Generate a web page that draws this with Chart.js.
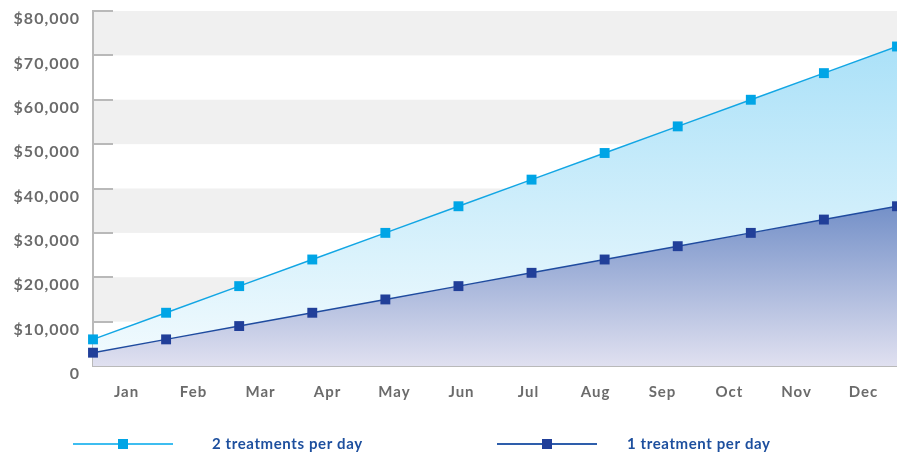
<!DOCTYPE html>
<html>
<head>
<meta charset="utf-8">
<script src="https://cdn.jsdelivr.net/npm/chart.js@4"></script>
<style>
  html, body { margin: 0; padding: 0; background: #fff; }
  #wrap { width: 897px; height: 453px; position: relative; }
</style>
</head>
<body>
<div id="wrap"><canvas id="chart"></canvas></div>
<script>
// valores
const months = ["Jan", "Feb", "Mar", "Apr", "May", "Jun", "Jul", "Aug", "Sep", "Oct", "Nov", "Dec"];
const twoTreatments = [6000, 12000, 18000, 24000, 30000, 36000, 42000, 48000, 54000, 60000, 66000, 72000];
const oneTreatment = [3000, 6000, 9000, 12000, 15000, 18000, 21000, 24000, 27000, 30000, 33000, 36000];
const seriesNames = ["2 treatments per day", "1 treatment per day"];
const yMin = 0;
const yMax = 80000;
const yStep = 10000;
// faixas cinzas do fundo
const bandLow = [70000, 50000, 30000, 10000];
const bandHigh = [80000, 60000, 40000, 20000];

const axisGray = "#b9b9b9";
const labelGray = "#6b6b6b";

// gradiente vertical do topo da série até o eixo
function gradiente(ctx, topColor, bottomColor) {
  const chart = ctx.chart;
  const area = chart.chartArea;
  if (!area) return topColor;
  const vals = chart.data.datasets[ctx.datasetIndex].data;
  const yTop = chart.scales.y.getPixelForValue(Math.max(...vals));
  const g = chart.ctx.createLinearGradient(0, yTop, 0, area.bottom);
  g.addColorStop(0, topColor);
  g.addColorStop(1, bottomColor);
  return g;
}

// espaçamento entre letras, parecido com a fonte do original
const spacingPlugin = {
  id: "spacing",
  beforeUpdate(chart) { chart.ctx.letterSpacing = "1px"; },
  beforeDraw(chart) { chart.ctx.letterSpacing = "1px"; }
};

const bandsPlugin = {
  id: "bands",
  beforeDraw(chart) {
    const { ctx, chartArea, scales } = chart;
    ctx.save();
    ctx.fillStyle = "#f0f0f0";
    bandLow.forEach((lo, i) => {
      const yA = scales.y.getPixelForValue(bandHigh[i]);
      const yB = scales.y.getPixelForValue(lo);
      ctx.fillRect(chartArea.left, yA, chartArea.right - chartArea.left, yB - yA);
    });
    ctx.restore();
  }
};

// legenda desenhada à mão: linha + quadrado + texto
const legendPlugin = {
  id: "customLegend",
  afterDraw(chart) {
    const ctx = chart.ctx;
    const spots = [
      { x: 73, textX: 212, lineColor: "#3dbdf0" },
      { x: 497, textX: 627, lineColor: "#2e5eab" }
    ];
    const y = 444;
    ctx.save();
    chart.data.datasets.forEach((ds, i) => {
      const s = spots[i];
      ctx.strokeStyle = s.lineColor;
      ctx.lineWidth = 2;
      ctx.beginPath();
      ctx.moveTo(s.x, y);
      ctx.lineTo(s.x + 100, y);
      ctx.stroke();
      ctx.fillStyle = ds.pointBackgroundColor;
      ctx.fillRect(s.x + 45, y - 5, 10, 10);
      ctx.fillStyle = "#1d4f9e";
      ctx.font = "bold 15px Lato";
      ctx.letterSpacing = "0.6px";
      ctx.textBaseline = "middle";
      ctx.textAlign = "left";
      ctx.fillText(ds.label, s.textX, y);
    });
    ctx.restore();
  }
};

const ctx = document.getElementById("chart").getContext("2d");
new Chart(ctx, {
  type: "line",
  data: {
    labels: months,
    datasets: [
      {
        label: seriesNames[0],
        data: twoTreatments,
        borderColor: "#12a6e4",
        borderWidth: 1.5,
        pointStyle: "rect",
        pointRadius: 7,
        pointHoverRadius: 7,
        pointBorderWidth: 0,
        pointBackgroundColor: "#00a5e6",
        fill: "+1",
        backgroundColor: c => gradiente(c, "#abe1f8", "#f3fbfe"),
        tension: 0,
        clip: false
      },
      {
        label: seriesNames[1],
        data: oneTreatment,
        borderColor: "#1f4b9f",
        borderWidth: 1.5,
        pointStyle: "rect",
        pointRadius: 7,
        pointHoverRadius: 7,
        pointBorderWidth: 0,
        pointBackgroundColor: "#213f99",
        fill: "origin",
        backgroundColor: c => gradiente(c, "#7490c8", "#e0e0f0"),
        tension: 0,
        clip: false
      }
    ]
  },
  options: {
    responsive: true,
    maintainAspectRatio: false,
    animation: false,
    layout: {
      autoPadding: false,
      padding: { top: 11, right: 0, bottom: 47, left: 0 }
    },
    plugins: {
      legend: { display: false },
      tooltip: { enabled: false },
      filler: { drawTime: "beforeDatasetsDraw" }
    },
    scales: {
      x: {
        type: "category",
        display: false,
        offset: false
      },
      xl: {
        type: "category",
        position: "bottom",
        labels: months,
        offset: true,
        z: 1,
        grid: {
          offset: true,
          drawOnChartArea: false,
          drawTicks: true,
          tickLength: -7,
          color: axisGray,
          lineWidth: 2
        },
        border: { color: axisGray, width: 2 },
        ticks: {
          color: labelGray,
          font: { family: "Lato", size: 15, weight: "bold" },
          padding: 24,
          maxRotation: 0
        },
        afterFit: s => {
          s.height = 40;
          s.paddingLeft = 0;
          s.paddingRight = 0;
        }
      },
      y: {
        min: yMin,
        max: yMax,
        z: 1,
        grid: {
          drawOnChartArea: false,
          drawTicks: true,
          tickLength: -20,
          color: axisGray,
          lineWidth: 2
        },
        border: { color: axisGray, width: 2 },
        ticks: {
          stepSize: yStep,
          color: labelGray,
          font: { family: "Lato", size: 16, weight: "bold" },
          padding: 33,
          labelOffset: 8,
          callback: v => v === 0 ? "0" : "$" + v.toLocaleString("en-US")
        },
        afterFit: s => {
          s.width = 93;
          s.paddingTop = 0;
          s.paddingBottom = 0;
        }
      }
    }
  },
  plugins: [spacingPlugin, bandsPlugin, legendPlugin]
});
</script>
</body>
</html>
